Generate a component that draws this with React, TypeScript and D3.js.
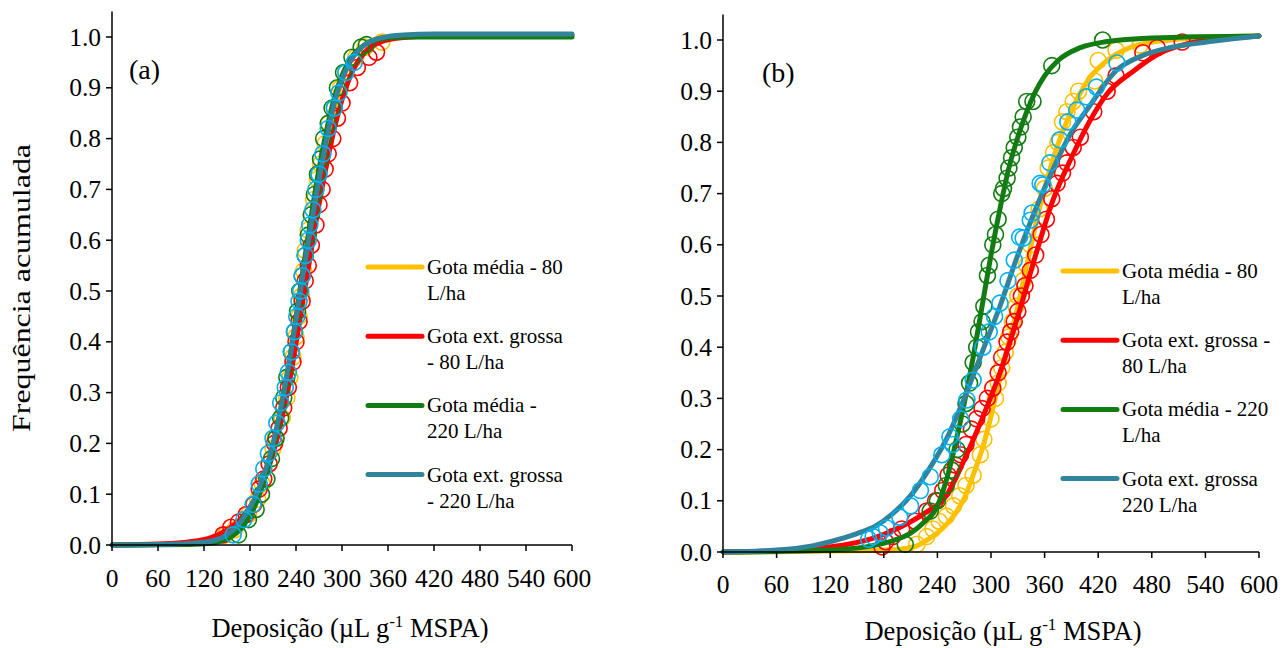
import React from 'react';
import * as d3 from 'd3';

const W = 1283;
const H = 648;

const xTicks = [0, 60, 120, 180, 240, 300, 360, 420, 480, 540, 600];
const yTicks = [0, 0.1, 0.2, 0.3, 0.4, 0.5, 0.6, 0.7, 0.8, 0.9, 1.0];

const seriesColors = ['#FFC000', '#FF0000', '#127C12', '#31849B'];
const markerColors = ['#FFC000', '#FF0000', '#127C12', '#00B0F0'];

// ---- panel (a): fitted curves [deposition, cumulative frequency]
const fitA_media80 = [[0, 0], [60, 0.001], [100, 0.003], [130, 0.01], [150, 0.025], [170, 0.05], [190, 0.1], [210, 0.19], [230, 0.33], [250, 0.52], [270, 0.71], [290, 0.86], [310, 0.95], [330, 0.985], [350, 0.998], [380, 1.003], [420, 1.005], [600, 1.005]];
const fitA_grossa80 = [[0, 0], [60, 0.002], [100, 0.006], [130, 0.015], [150, 0.03], [170, 0.055], [190, 0.1], [210, 0.18], [230, 0.31], [250, 0.49], [270, 0.67], [290, 0.82], [310, 0.92], [330, 0.97], [350, 0.99], [380, 0.999], [420, 1.002], [600, 1.003]];
const fitA_media220 = [[0, 0], [100, 0.001], [130, 0.004], [150, 0.012], [170, 0.035], [190, 0.09], [210, 0.19], [230, 0.35], [250, 0.55], [270, 0.74], [290, 0.88], [310, 0.955], [330, 0.985], [350, 0.996], [380, 1.0], [600, 1.0]];
const fitA_grossa220 = [[0, 0], [60, 0.001], [100, 0.003], [130, 0.008], [150, 0.02], [170, 0.05], [190, 0.105], [210, 0.2], [230, 0.35], [250, 0.54], [270, 0.72], [290, 0.87], [310, 0.95], [330, 0.985], [350, 0.998], [380, 1.004], [420, 1.006], [600, 1.006]];

// ---- panel (a): observed points
const obsA_media80 = [[148, 0.02], [160, 0.03], [178, 0.06], [190, 0.09], [196, 0.12], [205, 0.16], [210, 0.19], [213, 0.21], [222, 0.25], [228, 0.29], [232, 0.33], [236, 0.37], [240, 0.41], [244, 0.45], [247, 0.49], [250, 0.54], [252, 0.58], [256, 0.62], [260, 0.65], [263, 0.68], [268, 0.72], [272, 0.75], [278, 0.79], [283, 0.83], [290, 0.86], [298, 0.9], [305, 0.93], [318, 0.96], [330, 0.98], [352, 0.99]];
const obsA_grossa80 = [[145, 0.02], [155, 0.035], [165, 0.045], [175, 0.06], [185, 0.08], [192, 0.11], [198, 0.13], [205, 0.16], [212, 0.2], [218, 0.23], [224, 0.27], [230, 0.31], [236, 0.36], [240, 0.4], [244, 0.44], [248, 0.48], [252, 0.52], [256, 0.55], [260, 0.59], [266, 0.63], [270, 0.67], [274, 0.7], [278, 0.74], [282, 0.77], [288, 0.8], [294, 0.84], [300, 0.87], [310, 0.91], [320, 0.94], [335, 0.96], [345, 0.97]];
const obsA_media220 = [[165, 0.02], [178, 0.05], [188, 0.07], [195, 0.1], [202, 0.13], [208, 0.17], [214, 0.21], [220, 0.25], [224, 0.29], [228, 0.33], [234, 0.38], [238, 0.42], [242, 0.46], [245, 0.5], [248, 0.53], [252, 0.57], [256, 0.61], [260, 0.65], [264, 0.69], [268, 0.73], [272, 0.76], [276, 0.8], [282, 0.83], [287, 0.86], [294, 0.9], [302, 0.93], [313, 0.96], [325, 0.98], [332, 0.985]];
const obsA_grossa220 = [[158, 0.02], [172, 0.05], [184, 0.08], [192, 0.12], [198, 0.15], [204, 0.18], [210, 0.21], [215, 0.24], [220, 0.28], [226, 0.31], [230, 0.34], [234, 0.38], [238, 0.42], [241, 0.45], [244, 0.48], [246, 0.5], [248, 0.53], [252, 0.57], [256, 0.6], [258, 0.63], [262, 0.66], [266, 0.7], [270, 0.73], [275, 0.77], [282, 0.82], [290, 0.86], [296, 0.89], [305, 0.93], [316, 0.95]];

// ---- panel (b): fitted curves
const fitB_media80 = [[0, 0], [60, 0.0005], [120, 0.002], [180, 0.004], [200, 0.006], [217, 0.012], [230, 0.025], [245, 0.045], [260, 0.075], [270, 0.105], [280, 0.15], [290, 0.2], [300, 0.265], [310, 0.34], [320, 0.41], [330, 0.48], [340, 0.56], [350, 0.64], [360, 0.71], [370, 0.77], [380, 0.82], [395, 0.88], [410, 0.925], [430, 0.96], [460, 0.988], [500, 1.0], [550, 1.006], [600, 1.008]];
const fitB_grossa80 = [[0, 0], [60, 0.002], [100, 0.006], [140, 0.015], [170, 0.028], [200, 0.05], [225, 0.075], [250, 0.11], [270, 0.18], [290, 0.26], [310, 0.35], [330, 0.46], [350, 0.58], [370, 0.69], [390, 0.77], [410, 0.84], [430, 0.895], [460, 0.94], [490, 0.975], [520, 0.993], [560, 1.003], [600, 1.008]];
const fitB_media220 = [[0, 0], [60, 0.001], [120, 0.004], [160, 0.01], [190, 0.022], [210, 0.037], [225, 0.058], [240, 0.09], [250, 0.14], [260, 0.21], [270, 0.29], [280, 0.38], [290, 0.48], [300, 0.58], [310, 0.67], [320, 0.75], [330, 0.81], [340, 0.86], [350, 0.9], [360, 0.93], [375, 0.96], [400, 0.985], [430, 0.997], [480, 1.004], [600, 1.008]];
const fitB_grossa220 = [[0, 0], [60, 0.004], [100, 0.012], [120, 0.02], [150, 0.036], [170, 0.05], [190, 0.075], [210, 0.11], [230, 0.16], [250, 0.22], [270, 0.3], [290, 0.39], [310, 0.48], [330, 0.58], [350, 0.67], [370, 0.75], [390, 0.82], [410, 0.87], [440, 0.94], [470, 0.97], [500, 0.985], [550, 0.998], [600, 1.008]];

// ---- panel (b): observed points
const obsB_media80 = [[217, 0.015], [228, 0.03], [235, 0.045], [242, 0.06], [250, 0.07], [258, 0.09], [265, 0.11], [272, 0.13], [280, 0.15], [288, 0.19], [292, 0.22], [300, 0.26], [305, 0.3], [308, 0.33], [312, 0.36], [316, 0.39], [320, 0.42], [324, 0.45], [328, 0.48], [330, 0.5], [336, 0.53], [340, 0.56], [344, 0.6], [350, 0.63], [354, 0.67], [360, 0.71], [364, 0.75], [370, 0.78], [375, 0.8], [380, 0.84], [385, 0.86], [392, 0.88], [398, 0.9], [416, 0.92], [420, 0.96], [440, 0.98], [467, 0.99]];
const obsB_grossa80 = [[178, 0.01], [182, 0.02], [190, 0.03], [200, 0.045], [215, 0.06], [228, 0.08], [238, 0.1], [246, 0.12], [252, 0.15], [260, 0.17], [266, 0.19], [272, 0.21], [278, 0.24], [284, 0.26], [290, 0.28], [296, 0.3], [302, 0.32], [308, 0.35], [312, 0.38], [318, 0.41], [322, 0.43], [326, 0.45], [330, 0.47], [334, 0.5], [338, 0.52], [344, 0.55], [350, 0.58], [356, 0.62], [362, 0.65], [368, 0.69], [374, 0.72], [380, 0.74], [385, 0.76], [392, 0.79], [400, 0.81], [415, 0.86], [430, 0.9], [440, 0.93], [470, 0.975], [486, 0.985], [514, 0.996]];
const obsB_media220 = [[204, 0.015], [232, 0.08], [240, 0.1], [250, 0.13], [256, 0.16], [262, 0.2], [268, 0.25], [272, 0.29], [276, 0.33], [280, 0.37], [284, 0.4], [286, 0.43], [290, 0.45], [292, 0.48], [296, 0.54], [298, 0.56], [302, 0.6], [305, 0.62], [308, 0.65], [312, 0.7], [314, 0.71], [318, 0.73], [320, 0.75], [323, 0.77], [326, 0.79], [330, 0.81], [333, 0.83], [336, 0.85], [340, 0.88], [347, 0.88], [368, 0.95], [425, 1.0]];
const obsB_grossa220 = [[163, 0.025], [168, 0.03], [176, 0.037], [183, 0.047], [198, 0.068], [210, 0.09], [221, 0.12], [232, 0.147], [245, 0.19], [254, 0.225], [257, 0.21], [266, 0.26], [273, 0.297], [280, 0.336], [291, 0.4], [298, 0.43], [304, 0.46], [310, 0.486], [319, 0.53], [326, 0.57], [332, 0.615], [336, 0.613], [344, 0.648], [346, 0.662], [355, 0.72], [358, 0.717], [366, 0.76], [377, 0.805], [386, 0.84], [396, 0.863], [407, 0.889], [418, 0.908], [441, 0.955]];

const legendA = [['Gota média - 80', 'L/ha'], ['Gota ext. grossa', '- 80 L/ha'], ['Gota média -', '220 L/ha'], ['Gota ext. grossa', '- 220 L/ha']];
const legendB = [['Gota média - 80', 'L/ha'], ['Gota ext. grossa -', '80 L/ha'], ['Gota média - 220', 'L/ha'], ['Gota ext. grossa', '220 L/ha']];

const FONT = 'Liberation Serif, Times New Roman, Times, DejaVu Serif, serif';

function Panel({ left, right, bottom, top, fits, obs, legend, legendX, legendY, tag, tagX, tagY, tickLabelY, titleY, titleX }) {
    const xScale = d3.scaleLinear().domain([0, 600]).range([left, right]);
    const yScale = d3.scaleLinear().domain([0, 1]).range([bottom, top]);

    const line = d3.line()
        .x(d => xScale(d[0]))
        .y(d => yScale(d[1]))
        .curve(d3.curveMonotoneX);

    return (
        <g fill="#000">
            {/* series: line then markers */}
            {fits.map((f, i) => (
                <g key={i}>
                    <path d={line(f)} fill="none" stroke={seriesColors[i]} strokeWidth={5} strokeLinecap="round" strokeLinejoin="round" />
                    {obs[i].map((p, j) => (
                        <circle key={j} cx={xScale(p[0])} cy={yScale(p[1])} r={8} fill="none" stroke={markerColors[i]} strokeWidth={1.6} />
                    ))}
                </g>
            ))}

            {/* Y axis */}
            <line x1={left} x2={left} y1={bottom} y2={yScale(1.05)} stroke="#000" strokeWidth={1.5} />
            {yTicks.map(t => (
                <g key={t}>
                    <line x1={left - 6} x2={left} y1={yScale(t)} y2={yScale(t)} stroke="#000" strokeWidth={1.5} />
                    <text x={left - 11} y={yScale(t)} dy="0.34em" textAnchor="end" fontSize={25.5}>{t.toFixed(1)}</text>
                </g>
            ))}

            {/* X axis */}
            <line x1={left} x2={right} y1={bottom} y2={bottom} stroke="#000" strokeWidth={1.5} />
            {xTicks.map(t => (
                <g key={t}>
                    <line x1={xScale(t)} x2={xScale(t)} y1={bottom} y2={bottom + 6} stroke="#000" strokeWidth={1.5} />
                    <text x={xScale(t)} y={tickLabelY} textAnchor="middle" fontSize={25.5}>{t}</text>
                </g>
            ))}

            <text x={titleX} y={titleY} textAnchor="middle" fontSize={26.5}>
                Deposição (µL g<tspan dy={-10} fontSize={17}>-1</tspan><tspan dy={10}> MSPA)</tspan>
            </text>

            <text x={tagX} y={tagY} fontSize={28}>{tag}</text>

            {/* legend */}
            {legend.map((lines, i) => {
                const y = legendY + i * 69.2;
                return (
                    <g key={i}>
                        <line x1={legendX} x2={legendX + 54} y1={y} y2={y} stroke={seriesColors[i]} strokeWidth={5} strokeLinecap="round" />
                        <text x={legendX + 59} y={y + 7} fontSize={21}>{lines[0]}</text>
                        <text x={legendX + 59} y={y + 33} fontSize={21}>{lines[1]}</text>
                    </g>
                );
            })}
        </g>
    );
}

export default function App() {
    return (
        <svg width={W} height={H} style={{ position: 'absolute', left: 0, top: 0, background: '#fff', fontFamily: FONT }}>
            <Panel
                left={112} right={572} bottom={545} top={37}
                fits={[fitA_media80, fitA_grossa80, fitA_media220, fitA_grossa220]}
                obs={[obsA_media80, obsA_grossa80, obsA_media220, obsA_grossa220]}
                legend={legendA} legendX={368} legendY={267}
                tag="(a)" tagX={129} tagY={79}
                tickLabelY={587} titleX={350} titleY={637}
            />
            <Panel
                left={723} right={1259} bottom={552} top={40}
                fits={[fitB_media80, fitB_grossa80, fitB_media220, fitB_grossa220]}
                obs={[obsB_media80, obsB_grossa80, obsB_media220, obsB_grossa220]}
                legend={legendB} legendX={1063} legendY={271}
                tag="(b)" tagX={762} tagY={82}
                tickLabelY={593} titleX={1003} titleY={640}
            />
            <text transform="translate(30, 288) rotate(-90)" textAnchor="middle" fontSize={26} textLength={288} lengthAdjust="spacingAndGlyphs">Frequência acumulada</text>
        </svg>
    );
}
